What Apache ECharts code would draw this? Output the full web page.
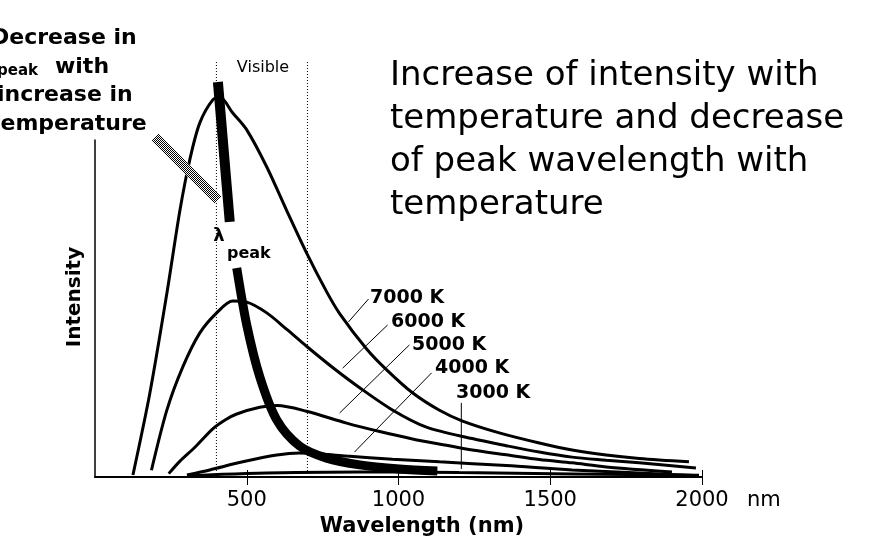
<!DOCTYPE html>
<html>
<head>
<meta charset="utf-8">
<script src="https://cdn.jsdelivr.net/npm/echarts@6/dist/echarts.min.js"></script>
<style>
  html, body { margin: 0; padding: 0; background: #fff; }
  #chart { width: 870px; height: 551px; }
</style>
</head>
<body>
<div id="chart"></div>
<script>
// [wavelength nm, relative intensity]
var curve7000 = [[125,0.6],[181,25],[237,54.6],[280,79.2],[312,94],[345,105],[388,111.9],[412,112.6],[454,108],[500,103],[566,92],[632,79],[697,66.5],[763,55],[806,48.5],[895,38],[961,31.8],[1046,25],[1135,19.8],[1211,16.6],[1332,13.1],[1464,10.1],[1572,8.0],[1684,6.5],[1793,5.5],[1957,4.5]];
var curve6000 = [[186,2],[237,19.9],[289,32.6],[345,42.7],[401,48.7],[454,52.2],[500,51.9],[566,48.7],[632,43.8],[697,38.8],[783,32.5],[872,26.5],[980,19.9],[1092,14.8],[1243,11.4],[1355,9.3],[1464,7.4],[1572,5.9],[1684,5.0],[1793,4.2],[1980,2.7]];
var curve5000 = [[243,1],[280,4.7],[330,8.9],[388,14.3],[430,17.0],[467,18.7],[543,20.7],[600,21.2],[697,19.5],[829,16.0],[938,13.5],[1046,11.3],[1158,9.4],[1243,8.0],[1355,6.6],[1464,5.2],[1572,4.2],[1684,3.0],[1901,1.5]];
var curve4000 = [[303,0.6],[378,2.1],[487,4.5],[599,6.5],[674,7.1],[750,6.8],[829,6.2],[980,5.3],[1135,4.5],[1355,3.4],[1572,2.1],[1793,1.2],[1990,0.4]];
var curve3000 = [[303,0.3],[420,0.8],[566,1.2],[760,1.4],[980,1.5],[1200,1.3],[1572,0.9],[1990,0.5]];

// peak wavelength locus, broken where the label sits
var peakUpper = [[405,117.2],[424,97],[444,75.7]];
var peakLower = [[467,62],[500,45.1],[543,29.7],[599,16.9],[674,9.2],[763,5.6],[872,3.6],[1003,2.4],[1128,1.8]];

// visible band limits (nm) and the hatched arrow
var visibleEdges = [400, 700];
var visibleTop = 123.7;
var arrowLine = [[197,100.9],[405,82.2]];

// temperature labels and their leader lines
var tempNames = ['7000 K', '6000 K', '5000 K', '4000 K', '3000 K'];
var leaderLines = [
  [[835,46],[901,52.8]],
  [[816,32.3],[964,45.1]],
  [[806,19.0],[1036,39.2]],
  [[855,7.4],[1109,30.9]],
  [[1207,22.0],[1207,2.4]]
];

var tickValues = [500, 1000, 1500, 2000];

var chart = echarts.init(document.getElementById('chart'));

var FONT = 'DejaVu Sans';

// 2x2 checker for the dithered arrow
var dither = document.createElement('canvas');
dither.width = 2; dither.height = 2;
var dctx = dither.getContext('2d');
dctx.fillStyle = '#fff'; dctx.fillRect(0, 0, 2, 2);
dctx.fillStyle = '#000'; dctx.fillRect(0, 0, 1, 1); dctx.fillRect(1, 1, 1, 1);

function plain(data, width, extra) {
  var s = {
    type: 'line',
    data: data,
    symbol: 'none',
    clip: false,
    silent: true,
    animation: false,
    lineStyle: { color: '#000', width: width, cap: 'butt' },
    z: 3
  };
  for (var k in extra) s[k] = extra[k];
  return s;
}

var series = [];
visibleEdges.forEach(function (x) {
  series.push(plain([[x, 0], [x, visibleTop]], 1, {
    lineStyle: { color: '#000', width: 1, type: [1, 2] }, z: 1
  }));
});
[curve7000, curve6000, curve5000, curve4000, curve3000].forEach(function (c) {
  series.push(plain(c, 3, { smooth: 0.3 }));
});
leaderLines.forEach(function (l) {
  series.push(plain(l, 1, { z: 2 }));
});
series.push(plain(peakUpper, 10, { smooth: 0.3, z: 4 }));
series.push(plain(peakLower, 9, { smooth: 0.3, z: 4 }));
series.push(plain(arrowLine, 10, {
  lineStyle: { color: { image: dither, repeat: 'repeat' }, width: 10, cap: 'butt' }, z: 4
}));

var labelPos = [[370, 298], [391, 322], [412, 345], [435, 368], [456, 393]];
var graphics = [];
tempNames.forEach(function (t, i) {
  graphics.push({
    type: 'text', x: labelPos[i][0], y: labelPos[i][1],
    style: { text: t, font: 'bold 19px ' + FONT, fill: '#000', verticalAlign: 'middle' }
  });
});

graphics.push(
  { type: 'text', x: 390, y: 55,
    style: { text: 'Increase of intensity with\ntemperature and decrease\nof peak wavelength with\ntemperature',
      font: '34px ' + FONT, lineHeight: 43, fill: '#000', verticalAlign: 'top' } },
  { type: 'text', x: -9, y: 38, style: { text: 'Decrease in', font: 'bold 22px ' + FONT, fill: '#000', verticalAlign: 'middle' } },
  { type: 'text', x: -4, y: 67, style: { text: 'λ', font: 'bold 22px ' + FONT, fill: '#000', align: 'right', verticalAlign: 'middle' } },
  { type: 'text', x: 38, y: 71, style: { text: 'peak', font: 'bold 15px ' + FONT, fill: '#000', align: 'right', verticalAlign: 'middle' } },
  { type: 'text', x: 55, y: 67, style: { text: 'with', font: 'bold 22px ' + FONT, fill: '#000', verticalAlign: 'middle' } },
  { type: 'text', x: -3, y: 95, style: { text: 'increase in', font: 'bold 22px ' + FONT, fill: '#000', verticalAlign: 'middle' } },
  { type: 'text', x: -10, y: 124, style: { text: 'temperature', font: 'bold 22px ' + FONT, fill: '#000', verticalAlign: 'middle' } },
  { type: 'text', x: 263, y: 68, style: { text: 'Visible', font: '16px ' + FONT, fill: '#000', align: 'center', verticalAlign: 'middle' } },
  { type: 'text', x: 219, y: 236, style: { text: 'λ', font: 'bold 18px ' + FONT, fill: '#000', align: 'center', verticalAlign: 'middle' } },
  { type: 'text', x: 227, y: 254, style: { text: 'peak', font: 'bold 16px ' + FONT, fill: '#000', verticalAlign: 'middle' } },
  { type: 'text', x: 422, y: 527, style: { text: 'Wavelength (nm)', font: 'bold 21px ' + FONT, fill: '#000', align: 'center', verticalAlign: 'middle' } },
  { type: 'text', x: 75, y: 297, rotation: Math.PI / 2,
    style: { text: 'Intensity', font: 'bold 20px ' + FONT, fill: '#000', align: 'center', verticalAlign: 'middle' } }
);

chart.setOption({
  backgroundColor: '#fff',
  animation: false,
  grid: { left: 95, right: 168, top: 140, bottom: 74 },
  xAxis: [{
    type: 'value', min: 0, max: 2000, interval: 500,
    splitLine: { show: false },
    axisLine: { lineStyle: { color: '#000', width: 2 } },
    axisTick: { length: 8, customValues: tickValues, lineStyle: { color: '#000', width: 1 } },
    axisLabel: {
      customValues: tickValues, color: '#000', fontSize: 21, fontFamily: FONT, margin: 13,
      formatter: function (v) { return String(v); }
    },
    name: 'nm', nameLocation: 'end', nameGap: 45,
    nameTextStyle: { color: '#000', fontSize: 21, fontFamily: FONT, align: 'left', verticalAlign: 'top', padding: [13, 0, 0, 0] }
  }, {
    type: 'value', min: 0, max: 2000, interval: 500, position: 'bottom',
    splitLine: { show: false },
    axisLine: { show: false },
    axisTick: { inside: true, length: 7, customValues: tickValues, lineStyle: { color: '#000', width: 1 } },
    axisLabel: { show: false }
  }],
  yAxis: {
    type: 'value', min: 0, max: 100,
    splitLine: { show: false },
    axisLine: { show: true, lineStyle: { color: '#000', width: 1.5 } },
    axisTick: { show: false },
    axisLabel: { show: false }
  },
  series: series,
  graphic: graphics
});
</script>
</body>
</html>
